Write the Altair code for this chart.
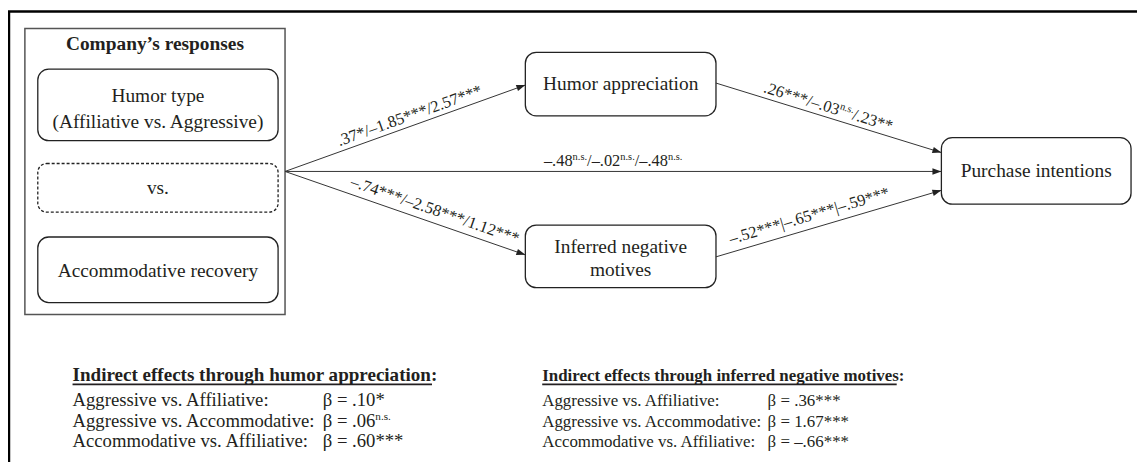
import math
import altair as alt
import pandas as pd

# ---------------- data (text content of the diagram) ----------------
company_title = "Company’s responses"
company_levels = [["Humor type", "(Affiliative vs. Aggressive)"], ["vs."], ["Accommodative recovery"]]
mediator_labels = [["Humor appreciation"], ["Inferred negative", "motives"]]
outcome_label = [["Purchase intentions"]]

coef_x_humor = [".37*", "–1.85***", "2.57***"]
coef_x_motives = ["–.74***", "–2.58***", "1.12***"]
coef_x_pi = ["–.48^n.s.", "–.02^n.s.", "–.48^n.s."]
coef_humor_pi = [".26***", "–.03^n.s.", ".23**"]
coef_motives_pi = ["–.52***", "–.65***", "–.59***"]

indirect_titles = ["Indirect effects through humor appreciation:",
                   "Indirect effects through inferred negative motives:"]
indirect_contrasts = ["Aggressive vs. Affiliative:", "Aggressive vs. Accommodative:",
                      "Accommodative vs. Affiliative:"]
indirect_humor_betas = [".10*", ".06^n.s.", ".60***"]
indirect_motive_betas = [".36***", "1.67***", "–.66***"]

# ---------------- layout (page pixel coordinates) ----------------
FONT = "Liberation Serif"
INK = "#231f20"
F_NODE, F_COEF, F_SUP = 19.5, 16.5, 10.5

company_box = (25, 27, 287, 315)
level_boxes = [(38, 68, 280, 140), (38, 163, 280, 212), (38, 237, 280, 303)]
level_text_y = [[95, 121], [188], [271]]
mediator_boxes = [(529, 51, 721, 115), (529, 225, 721, 288)]
mediator_text_y = [[83], [247, 270]]
outcome_box = (948, 137, 1139, 204)
outcome_text_y = [[171]]

arrows = [((287, 171), (529, 84)), ((287, 171), (529, 255)), ((287, 171), (948, 171)),
          ((721, 82), (948, 152)), ((721, 257), (948, 190))]
# (coefficients, separator, arrow index, fraction along arrow, offset above arrow)
arrow_labels = [(coef_x_humor, "/", 0, 0.533, 5.3), (coef_x_motives, "/", 1, 0.607, 7.6),
                (coef_x_pi, "/", 2, 0.5, 5.5), (coef_humor_pi, "/", 3, 0.485, 5.3),
                (coef_motives_pi, "|", 4, 0.43, 7.9)]

# label x, beta x, underline end, heading font size, row font size
bottom_cols = [(73, 325, 435, 19.2, 18.8), (546, 773, 903, 17.0, 17.0)]
title_baseline, underline_y = 382, 385.5
row_baselines = [407, 428, 448]

# ---------------- helpers ----------------
WID = {'.': 250, '*': 500, '/': 278, '–': 500, '|': 200, 'n': 500, 's': 389, ' ': 250,
       '=': 564, 'β': 500}


def tw(s, size):
    return sum(WID.get(ch, 500) for ch in s) * size / 1000.0


def segments(items, sep):
    out = []
    for i, it in enumerate(items):
        if i > 0:
            out.append((sep, False))
        parts = it.split("^")
        out.append((parts[0], False))
        if len(parts) > 1:
            out.append((parts[1], True))
    return out


seg_rows = []


def place(segs, x0, y0, theta, F, Fs, centered):
    c, s = math.cos(math.radians(theta)), math.sin(math.radians(theta))
    total = sum(tw(t, Fs if sup else F) for t, sup in segs)
    off = -total / 2 if centered else 0.0
    for t, sup in segs:
        sz = Fs if sup else F
        px, py = x0 + off * c, y0 + off * s
        if sup:
            px += 0.38 * F * s
            py -= 0.38 * F * c
        seg_rows.append(dict(x=px, y=py, text=t, size=sz, angle=theta % 360))
        off += tw(t, sz)


for coefs, sep, ai, t, d in arrow_labels:
    (x0, y0), (x1, y1) = arrows[ai]
    th = math.degrees(math.atan2(y1 - y0, x1 - x0))
    c, s = math.cos(math.radians(th)), math.sin(math.radians(th))
    bx = x0 + t * (x1 - x0) + d * s
    by = y0 + t * (y1 - y0) - d * c
    place(segments(coefs, sep), bx, by, th, F_COEF, F_SUP, True)

for (lx, bxp, _, _, fs), betas in zip(bottom_cols, [indirect_humor_betas, indirect_motive_betas]):
    for yb, lab, b in zip(row_baselines, indirect_contrasts, betas):
        place([(lab, False)], lx, yb, 0, fs, fs * 0.6, False)
        parts = b.split("^")
        sg = [("β = " + parts[0], False)]
        if len(parts) > 1:
            sg.append((parts[1], True))
        place(sg, bxp, yb, 0, fs, fs * 0.6, False)

seg_df = pd.DataFrame(seg_rows)


def box_df(boxes):
    return pd.DataFrame([dict(x=b[0], y=b[1], x2=b[2], y2=b[3]) for b in boxes])


node_text = []
for boxes, lines, ys in [(level_boxes, company_levels, level_text_y),
                         (mediator_boxes, mediator_labels, mediator_text_y),
                         ([outcome_box], outcome_label, outcome_text_y)]:
    for b, ls, yy in zip(boxes, lines, ys):
        for l, y in zip(ls, yy):
            node_text.append(dict(x=(b[0] + b[2]) / 2, y=y, text=l))
node_df = pd.DataFrame(node_text)

arrow_df = pd.DataFrame([dict(x=a[0][0], y=a[0][1], x2=a[1][0], y2=a[1][1],
                              angle=math.degrees(math.atan2(a[1][1] - a[0][1], a[1][0] - a[0][0])) % 360)
                         for a in arrows])

frame_df = pd.DataFrame([dict(x=8, y=10, x2=1145, y2=10), dict(x=9, y=10, x2=9, y2=470)])
title_df = pd.DataFrame([dict(x=c[0], y=title_baseline, text=t, size=c[3])
                         for c, t in zip(bottom_cols, indirect_titles)])
underline_df = pd.DataFrame([dict(x=c[0], y=underline_y, x2=c[2], y2=underline_y) for c in bottom_cols])
ctitle_df = pd.DataFrame([dict(x=(company_box[0] + company_box[2]) / 2, y=43, text=company_title)])

W, H = 1137, 454
xs = alt.Scale(domain=[8, 8 + W], nice=False, zero=False)
ys = alt.Scale(domain=[8, 8 + H], nice=False, zero=False, reverse=True)
X = alt.X("x:Q", scale=xs, axis=None)
Y = alt.Y("y:Q", scale=ys, axis=None)
X2 = alt.X2("x2:Q")
Y2 = alt.Y2("y2:Q")

company = alt.Chart(box_df([company_box])).mark_rect(fill="white", stroke="#555", strokeWidth=1.5).encode(X, Y, X2, Y2)
solid_boxes = alt.Chart(box_df([level_boxes[0], level_boxes[2]] + mediator_boxes + [outcome_box])).mark_rect(
    fill="white", stroke="#222", strokeWidth=1.3, cornerRadius=11).encode(X, Y, X2, Y2)
dashed_box = alt.Chart(box_df([level_boxes[1]])).mark_rect(
    fill="white", stroke="#222", strokeWidth=1.3, cornerRadius=9, strokeDash=[3, 2]).encode(X, Y, X2, Y2)
lines = alt.Chart(arrow_df).mark_rule(color="#333", strokeWidth=1).encode(X, Y, X2, Y2)
heads = alt.Chart(arrow_df).mark_point(shape="M0,0 L-1,-0.36 L-1,0.36 Z", filled=True, fill="#222",
                                       opacity=1, size=324).encode(
    alt.X("x2:Q", scale=xs, axis=None), alt.Y("y2:Q", scale=ys, axis=None), alt.Angle("angle:Q", scale=None))
frame = alt.Chart(frame_df).mark_rule(color="black", strokeWidth=2.5).encode(X, Y, X2, Y2)
underline = alt.Chart(underline_df).mark_rule(color=INK, strokeWidth=1.8).encode(X, Y, X2, Y2)

seg_text = alt.Chart(seg_df).mark_text(font=FONT, align="left", baseline="alphabetic", color=INK).encode(
    X, Y, alt.Text("text:N"), alt.Size("size:Q", scale=None), alt.Angle("angle:Q", scale=None))
node_txt = alt.Chart(node_df).mark_text(font=FONT, fontSize=F_NODE, align="center", baseline="middle",
                                        color=INK).encode(X, Y, alt.Text("text:N"))
titles = alt.Chart(title_df).mark_text(font=FONT, fontWeight="bold", align="left",
                                       baseline="alphabetic", color=INK).encode(
    X, Y, alt.Text("text:N"), alt.Size("size:Q", scale=None))
ctitle = alt.Chart(ctitle_df).mark_text(font=FONT, fontSize=F_NODE, fontWeight="bold", align="center",
                                        baseline="middle", color=INK).encode(X, Y, alt.Text("text:N"))

chart = alt.layer(frame, company, solid_boxes, dashed_box, lines, heads, seg_text, node_txt, titles,
                  underline, ctitle).properties(
    width=W, height=H, padding=0, autosize="none", background="white"
).configure_view(stroke=None)

chart.save("out.html", embed_options={"renderer": "svg", "actions": False})
